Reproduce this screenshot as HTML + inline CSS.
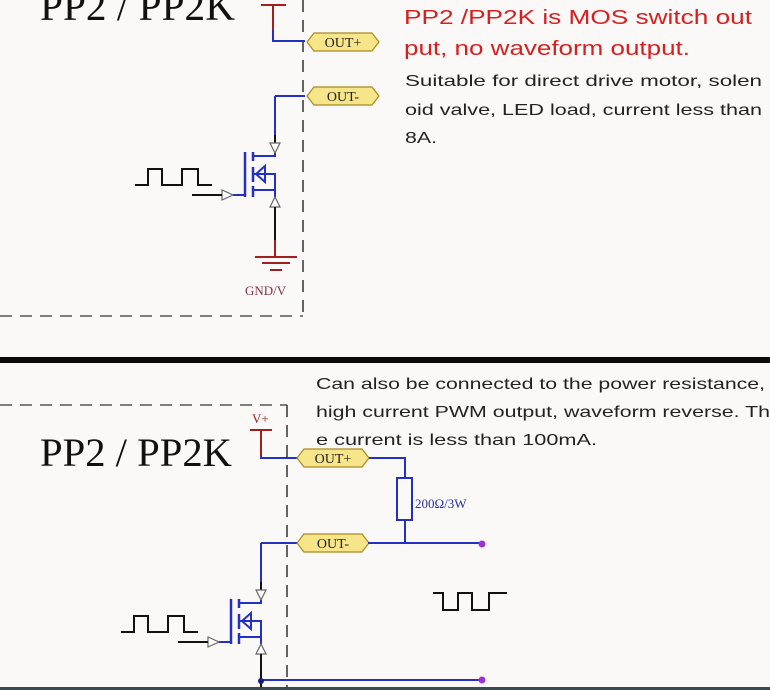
<!DOCTYPE html>
<html><head><meta charset="utf-8"><style>
html,body{margin:0;padding:0;background:#fbf9f7;}
svg{display:block}
.t{font-family:"Liberation Sans","DejaVu Sans",sans-serif;}
.s{font-family:"Liberation Serif",serif;}
</style></head><body>
<svg width="770" height="690" viewBox="0 0 770 690" xmlns="http://www.w3.org/2000/svg">
<rect width="770" height="690" fill="#fbf9f7"/>
<defs>
<g id="mos">
  <path d="M275,96 V135" stroke="#2430c0" stroke-width="2" fill="none"/>
  <path d="M275,135 V143" stroke="#111" stroke-width="2"/>
  <path d="M270,143 L280,143 L275,153 Z" fill="#fff" stroke="#666" stroke-width="1.2"/>
  <path d="M275,153 V156 H253" stroke="#2430c0" stroke-width="2" fill="none"/>
  <path d="M253,152 V161 M253,167 V182 M253,186 V197" stroke="#2430c0" stroke-width="2.5"/>
  <path d="M245,152 V197" stroke="#2430c0" stroke-width="2.5"/>
  <path d="M253,174 H275 V190 H253" stroke="#2430c0" stroke-width="2" fill="none"/>
  <path d="M256,174 L265,166 L265,182 Z" fill="none" stroke="#2430c0" stroke-width="2"/>
  <path d="M275,190 V197" stroke="#2430c0" stroke-width="2"/>
  <path d="M275,197 L270,207 L280,207 Z" fill="#fff" stroke="#666" stroke-width="1.2"/>
  <path d="M233,195 H245" stroke="#2430c0" stroke-width="2"/>
  <path d="M222,190 L222,200 L233,195 Z" fill="#fff" stroke="#666" stroke-width="1.2"/>
  <path d="M192,195 H222" stroke="#111" stroke-width="2"/>
  <path d="M135,185 H148 V169 H162 V185 H182 V169 H198 V185 H212" stroke="#111" stroke-width="2" fill="none"/>
</g>
<g id="tag">
  <path d="M0,9 L7,0 H65 L72,9 L65,18 H7 Z" fill="#f7e58a" stroke="#a88a20" stroke-width="1.2"/>
</g>
</defs>

<!-- TOP -->
<text x="40" y="20" class="s" font-size="42" fill="#111" textLength="195" lengthAdjust="spacingAndGlyphs">PP2 / PP2K</text>
<path d="M303,0 V316" stroke="#333" stroke-width="1.5" stroke-dasharray="12,8"/>
<path d="M0,316 H303" stroke="#555" stroke-width="1.5" stroke-dasharray="12,8"/>
<path d="M261,5 H286" stroke="#a02020" stroke-width="2"/>
<path d="M273,5 V30" stroke="#a02020" stroke-width="2"/>
<path d="M273,30 V41 H305" stroke="#2430c0" stroke-width="2" fill="none"/>
<use href="#tag" x="307" y="33"/>
<text x="343" y="47" class="s" font-size="14" fill="#222" text-anchor="middle">OUT+</text>
<path d="M275,96 H305" stroke="#2430c0" stroke-width="2"/>
<use href="#tag" x="307" y="87"/>
<text x="343" y="101" class="s" font-size="14" fill="#222" text-anchor="middle">OUT-</text>
<use href="#mos"/>
<path d="M275,207 V240" stroke="#111" stroke-width="2"/>
<path d="M275,240 V257" stroke="#a02020" stroke-width="2"/>
<path d="M255,257 H297 M262,263 H290 M270,270 H282" stroke="#a02020" stroke-width="2"/>
<text x="245" y="295" class="s" font-size="13" fill="#803040">GND/V</text>

<text x="404" y="24" class="t" font-size="20" fill="#d42020" textLength="348" lengthAdjust="spacingAndGlyphs">PP2 /PP2K is MOS switch out</text>
<text x="404" y="55" class="t" font-size="20" fill="#d42020" textLength="286" lengthAdjust="spacingAndGlyphs">put, no waveform output.</text>
<text x="405" y="86" class="t" font-size="16" fill="#222" textLength="357" lengthAdjust="spacingAndGlyphs">Suitable for direct drive motor, solen</text>
<text x="405" y="115" class="t" font-size="16" fill="#222" textLength="357" lengthAdjust="spacingAndGlyphs">oid valve, LED load, current less than</text>
<text x="405" y="143" class="t" font-size="16" fill="#222" textLength="32" lengthAdjust="spacingAndGlyphs">8A.</text>

<!-- divider -->
<rect x="0" y="357" width="770" height="6" fill="#0a0a0a"/>

<!-- BOTTOM -->
<text x="316" y="389" class="t" font-size="16" fill="#222" textLength="449" lengthAdjust="spacingAndGlyphs">Can also be connected to the power resistance,</text>
<text x="316" y="417" class="t" font-size="16" fill="#222" textLength="454" lengthAdjust="spacingAndGlyphs">high current PWM output, waveform reverse. Th</text>
<text x="316" y="445" class="t" font-size="16" fill="#222" textLength="281" lengthAdjust="spacingAndGlyphs">e current is less than 100mA.</text>

<path d="M0,405 H287" stroke="#555" stroke-width="1.5" stroke-dasharray="12,8"/>
<path d="M287,405 V690" stroke="#333" stroke-width="1.5" stroke-dasharray="12,8"/>
<text x="40" y="466" class="s" font-size="40" fill="#111" textLength="192" lengthAdjust="spacingAndGlyphs">PP2 / PP2K</text>
<text x="252" y="423" class="s" font-size="13" fill="#a02020">V+</text>
<path d="M250,430 H272" stroke="#a02020" stroke-width="2"/>
<path d="M261,430 V455" stroke="#a02020" stroke-width="2"/>
<path d="M261,455 V458 H298" stroke="#2430c0" stroke-width="2" fill="none"/>
<use href="#tag" x="297" y="449"/>
<text x="333" y="463" class="s" font-size="14" fill="#222" text-anchor="middle">OUT+</text>
<path d="M369,458 H405 V478" stroke="#2430c0" stroke-width="2" fill="none"/>
<rect x="397" y="478" width="15" height="42" fill="none" stroke="#2430c0" stroke-width="2"/>
<text x="415" y="508" class="s" font-size="13" fill="#2430a0">200Ω/3W</text>
<path d="M405,520 V543" stroke="#2430c0" stroke-width="2"/>
<path d="M261,543 H298" stroke="#2430c0" stroke-width="2"/>
<use href="#tag" x="297" y="534"/>
<text x="333" y="548" class="s" font-size="14" fill="#222" text-anchor="middle">OUT-</text>
<path d="M368,543 H482" stroke="#2430c0" stroke-width="2"/>
<circle cx="482" cy="544" r="3.5" fill="#a030d0"/>
<g transform="translate(-14,447)"><use href="#mos"/></g>
<path d="M261,654 V690" stroke="#111" stroke-width="2"/>
<path d="M261,680 H482" stroke="#2430c0" stroke-width="2"/>
<circle cx="261" cy="681" r="3" fill="#1a1a80"/>
<circle cx="482" cy="680" r="3.5" fill="#a030d0"/>
<path d="M433,593 H443 V610 H458 V593 H472 V610 H489 V593 H507" stroke="#111" stroke-width="2" fill="none"/>
<rect x="0" y="687" width="770" height="3" fill="#3a4a50"/>
</svg>
</body></html>
